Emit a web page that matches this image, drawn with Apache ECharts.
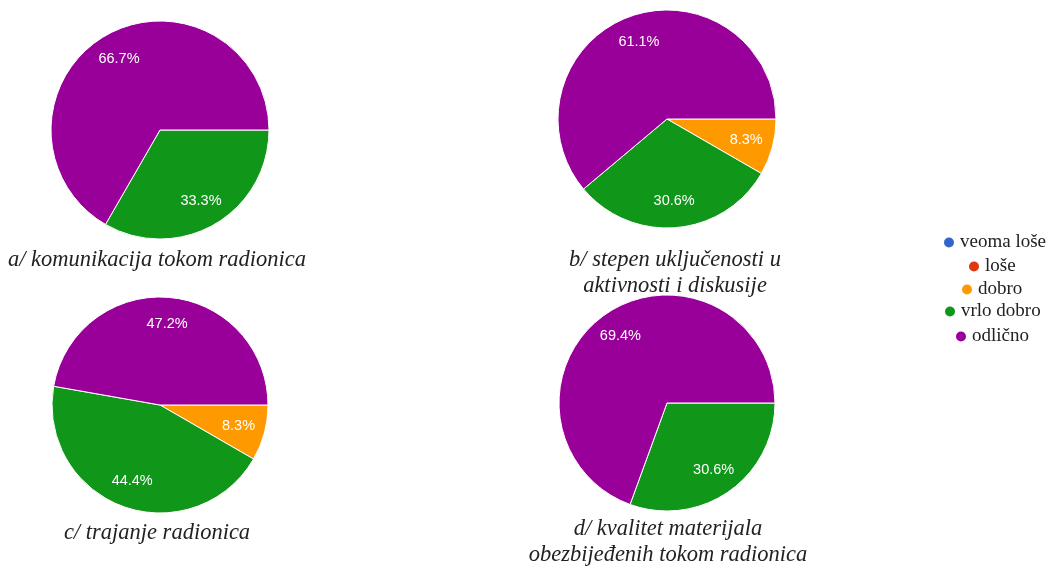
<!DOCTYPE html>
<html><head><meta charset="utf-8">
<script src="https://cdn.jsdelivr.net/npm/echarts@6/dist/echarts.min.js"></script>
<style>html,body{margin:0;padding:0;background:#fff}#c{width:1053px;height:568px}</style>
</head><body><div id="c"></div>
<script>
const categories = ['veoma loše', 'loše', 'dobro', 'vrlo dobro', 'odlično'];
const colors = ['#3366cc', '#dc3912', '#ff9900', '#109618', '#990099'];
// respondent counts per category (36 respondents)
const valuesA = [0, 0, 0, 12, 24];
const valuesB = [0, 0, 3, 11, 22];
const valuesC = [0, 0, 3, 16, 17];
const valuesD = [0, 0, 0, 11, 25];
const titles = [
  'a/ komunikacija tokom radionica',
  'b/ stepen uključenosti u\naktivnosti i diskusije',
  'c/ trajanje radionica',
  'd/ kvalitet materijala\nobezbijeđenih tokom radionica'
];

const pies = [
  {vals: valuesA, center: [160, 130], r: 109, title: titles[0], tx: 152, ty: 242},
  {vals: valuesB, center: [667, 119], r: 109, title: titles[1], tx: 670, ty: 242},
  {vals: valuesC, center: [160, 405], r: 108, title: titles[2], tx: 152, ty: 515},
  {vals: valuesD, center: [667, 403], r: 108, title: titles[3], tx: 663, ty: 511}
];

const series = [];
const title = [];
pies.forEach(p => {
  const total = p.vals.reduce((a, b) => a + b, 0);
  const data = categories.map((n, i) => ({name: n, value: p.vals[i], itemStyle: {color: colors[i]}}));
  series.push({
    type: 'pie', center: p.center, radius: [0, p.r], startAngle: 0, clockwise: true,
    data: data, label: {show: false}, labelLine: {show: false}, silent: true,
    itemStyle: {borderColor: '#ffffff', borderWidth: 1}, animation: false
  });
  series.push({
    type: 'pie', center: p.center, radius: [p.r * 0.45, p.r], startAngle: 0, clockwise: true,
    data: categories.map((n, i) => ({name: n, value: p.vals[i], itemStyle: {color: 'rgba(0,0,0,0)'}})),
    silent: true, animation: false, labelLine: {show: false},
    label: {
      show: true, position: 'inside', color: '#ffffff', fontFamily: 'Liberation Sans, Arial, sans-serif', fontSize: 14.5,
      formatter: prm => prm.value > 0 ? (prm.value / total * 100).toFixed(1) + '%' : ''
    }
  });
  title.push({
    text: p.title, left: p.tx, top: p.ty, textAlign: 'center',
    textStyle: {fontFamily: 'Liberation Serif, serif', fontStyle: 'italic', fontWeight: 'normal', fontSize: 22.5, color: '#222', lineHeight: 26}
  });
});

const legPos = [[942, 233], [967, 257], [960, 280], [943, 302], [954, 327]];
const legend = categories.map((n, i) => ({
  data: [n], left: legPos[i][0], top: legPos[i][1], orient: 'vertical', icon: 'circle',
  itemWidth: 12, itemHeight: 12, itemGap: 5, selectedMode: false, padding: 0,
  textStyle: {fontFamily: 'Liberation Serif, serif', fontSize: 19, color: '#222'}
}));

const chart = echarts.init(document.getElementById('c'));
chart.setOption({backgroundColor: '#ffffff', animation: false, title, legend, series});
</script></body></html>
